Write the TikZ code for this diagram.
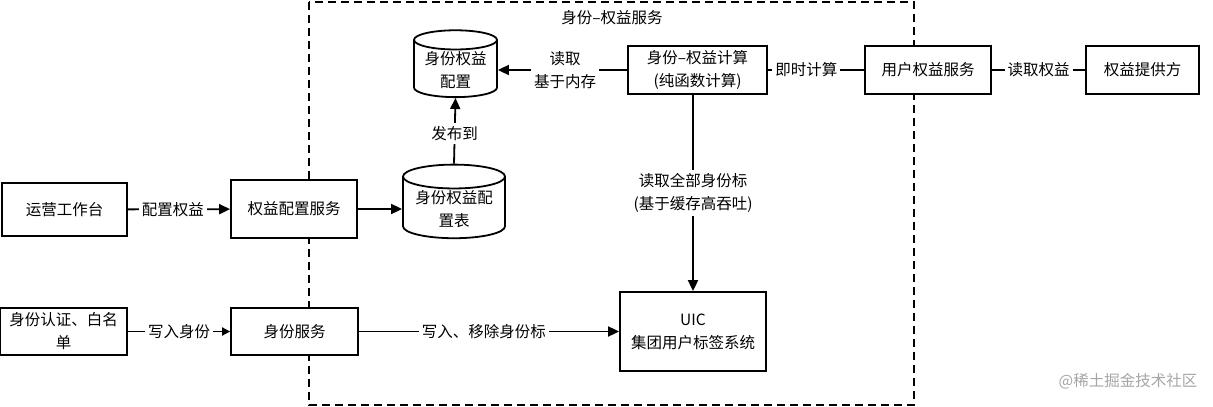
\documentclass[tikz,border=0pt]{standalone}
\usepackage{fontspec}
\setmainfont{Noto Sans CJK SC}
\usetikzlibrary{arrows.meta,shapes.geometric,positioning}

\tikzset{
  box/.style={draw,line width=1.8pt,fill=white,align=center,inner sep=2pt},
  store/.style={cylinder,shape border rotate=90,aspect=0.3,draw,line width=1.8pt,fill=white,align=center,inner sep=1pt},
  lbl/.style={fill=white,align=center,inner sep=3pt},
  link/.style={line width=1.8pt},
  flow/.style={link,-{Triangle[length=11pt,width=10pt]}},
  frame/.style={line width=1.8pt,dash pattern=on 8pt off 5pt}
}

\begin{document}
\begin{tikzpicture}[x=1pt,y=-1pt,font=\fontsize{15.5}{23}\selectfont]
  \useasboundingbox[fill=white] (0,0) rectangle (1213,407);
  % service boundary
  \draw[frame] (309,2) rectangle (914,405);
  \node (title) at (612,18) {身份–权益服务};

  % top row
  \node[store,minimum width=83pt,minimum height=60pt] (cfgmem) at (455.5,70) {身份权益\\配置};
  \node[box,minimum width=139pt,minimum height=48pt] (calc) at (697.5,70) {身份–权益计算\\(纯函数计算)};
  \node[box,minimum width=126pt,minimum height=48pt] (usersvc) at (928,70) {用户权益服务};
  \node[box,minimum width=113pt,minimum height=48pt] (provider) at (1142.5,70) {权益提供方};

  % middle row
  \node[box,minimum width=125pt,minimum height=53pt] (ops) at (64.5,209.5) {运营工作台};
  \node[box,minimum width=126pt,minimum height=58pt] (cfgsvc) at (294,209) {权益配置服务};
  \node[store,minimum width=102pt,minimum height=72pt] (cfgtable) at (454,209) {身份权益配\\置表};

  % bottom row
  \node[box,minimum width=127pt,minimum height=47pt] (auth) at (63.5,331.5) {身份认证、白名\\单};
  \node[box,minimum width=127pt,minimum height=47pt] (idsvc) at (294.5,331.5) {身份服务};
  \node[box,minimum width=146pt,minimum height=79pt] (uic) at (693,331.5) {UIC\\集团用户标签系统};

  % connectors
  \draw[flow] (calc) -- node[lbl,pos=0.48] {读取\\基于内存} (cfgmem);
  \draw[link] (calc) -- node[lbl,pos=0.4] {即时计算} (usersvc);
  \draw[link] (usersvc) -- node[lbl] {读取权益} (provider);
  \draw[flow] (cfgtable.north) -- node[lbl,pos=0.46] {发布到} (cfgmem.south);
  \draw[flow] (ops) -- node[lbl,pos=0.44] {配置权益} (cfgsvc);
  \draw[flow] (cfgsvc) -- (cfgtable);
  \draw[flow] (uic.north |- calc.south) -- node[lbl] {读取全部身份标\\(基于缓存高吞吐)} (uic.north);
  \draw[link,-{Triangle[length=8pt,width=8pt]}] (auth) -- node[lbl,pos=0.5] {写入身份} (idsvc);
  \draw[flow] (idsvc) -- node[lbl,pos=0.48] {写入、移除身份标} (uic);

  \node[text=black!35] (mark) at (1128,381) {@稀土掘金技术社区};
\end{tikzpicture}
\end{document}
